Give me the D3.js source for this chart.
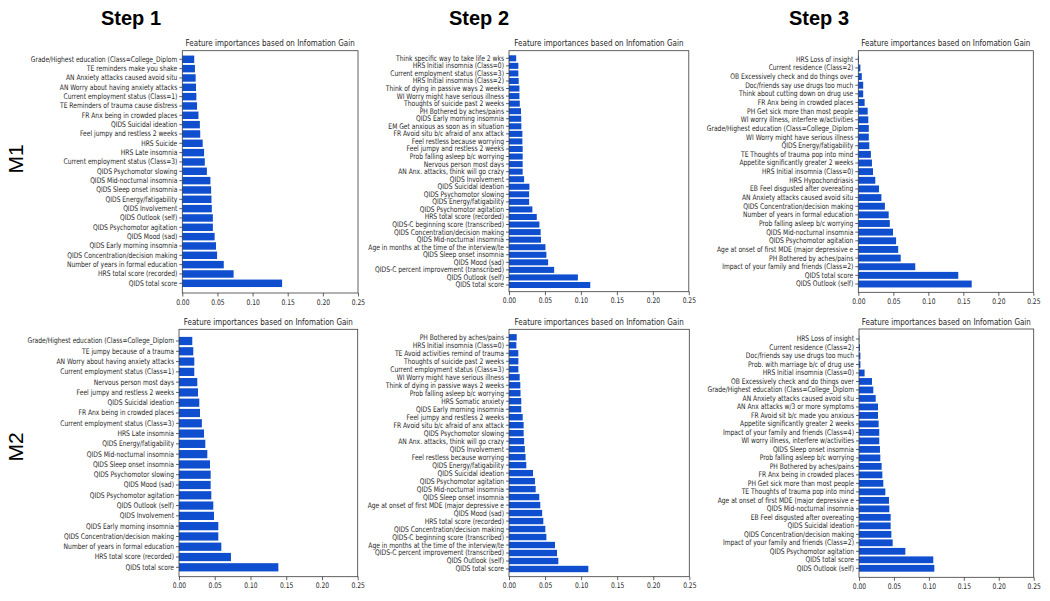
<!DOCTYPE html>
<html>
<head>
<meta charset="utf-8">
<script src="https://cdn.jsdelivr.net/npm/d3@7"></script>
<style>
  html, body { margin: 0; padding: 0; background: #fff; }
  svg { display: block; }
</style>
</head>
<body>
<svg id="chart" width="1050" height="601"></svg>
<script>
// ---------------- DATA (top-to-bottom order as shown) ----------------
const stepHeaders = ["Step 1", "Step 2", "Step 3"];
const modelLabels = ["M1", "M2"];
const panelTitle = "Feature importances based on Infomation Gain";
const xTicks = [0, 0.05, 0.10, 0.15, 0.20, 0.25];

const m1s1Labels = [
  "Grade/Highest education (Class=College_Diplom", "TE reminders make you shake",
  "AN Anxiety attacks caused avoid situ", "AN Worry about having anxiety attacks",
  "Current employment status (Class=1)", "TE Reminders of trauma cause distress",
  "FR Anx being in crowded places", "QIDS Suicidal ideation",
  "Feel jumpy and restless 2 weeks", "HRS Suicide", "HRS Late insomnia",
  "Current employment status (Class=3)", "QIDS Psychomotor slowing",
  "QIDS Mid-nocturnal insomnia", "QIDS Sleep onset insomnia", "QIDS Energy/fatigability",
  "QIDS Involvement", "QIDS Outlook (self)", "QIDS Psychomotor agitation",
  "QIDS Mood (sad)", "QIDS Early morning insomnia", "QIDS Concentration/decision making",
  "Number of years in formal education", "HRS total score (recorded)", "QIDS total score"
];
const m1s1Values = [0.017, 0.018, 0.019, 0.0195, 0.020, 0.021, 0.023, 0.025, 0.0255, 0.029,
  0.031, 0.032, 0.035, 0.040, 0.041, 0.0415, 0.042, 0.0435, 0.0435, 0.046, 0.048, 0.0495,
  0.059, 0.073, 0.142];

const m1s2Labels = [
  "Think specific way to take life 2 wks", "HRS Initial insomnia (Class=0)",
  "Current employment status (Class=3)", "HRS Initial insomnia (Class=2)",
  "Think of dying in passive ways 2 weeks", "WI Worry might have serious illness",
  "Thoughts of suicide past 2 weeks", "PH Bothered by aches/pains",
  "QIDS Early morning insomnia", "EM Get anxious as soon as in situation",
  "FR Avoid situ b/c afraid of anx attack", "Feel restless because worrying",
  "Feel jumpy and restless 2 weeks", "Prob falling asleep b/c worrying",
  "Nervous person most days", "AN Anx. attacks, think will go crazy", "QIDS Involvement",
  "QIDS Suicidal ideation", "QIDS Psychomotor slowing", "QIDS Energy/fatigability",
  "QIDS Psychomotor agitation", "HRS total score (recorded)",
  "QIDS-C beginning score (transcribed)", "QIDS Concentration/decision making",
  "QIDS Mid-nocturnal insomnia", "Age in months at the time of the interview/te",
  "QIDS Sleep onset insomnia", "QIDS Mood (sad)", "QIDS-C percent improvement (transcribed)",
  "QIDS Outlook (self)", "QIDS total score"
];
const m1s2Values = [0.010, 0.013, 0.013, 0.0135, 0.0145, 0.0145, 0.015, 0.0167, 0.017, 0.0172,
  0.0186, 0.0186, 0.019, 0.019, 0.019, 0.019, 0.021, 0.0284, 0.028, 0.028, 0.0325, 0.0386,
  0.0423, 0.044, 0.0445, 0.0507, 0.052, 0.0544, 0.0628, 0.0958, 0.113];

const m1s3Labels = [
  "HRS Loss of insight", "Current residence (Class=2)", "OB Excessively check and do things over",
  "Doc/friends say use drugs too much", "Think about cutting down on drug use",
  "FR Anx being in crowded places", "PH Get sick more than most people",
  "WI worry illness, interfere w/activities", "Grade/Highest education (Class=College_Diplom",
  "WI Worry might have serious illness", "QIDS Energy/fatigability",
  "TE Thoughts of trauma pop into mind", "Appetite significantly greater 2 weeks",
  "HRS Initial insomnia (Class=0)", "HRS Hypochondriasis", "EB Feel disgusted after overeating",
  "AN Anxiety attacks caused avoid situ", "QIDS Concentration/decision making",
  "Number of years in formal education", "Prob falling asleep b/c worrying",
  "QIDS Mid-nocturnal insomnia", "QIDS Psychomotor agitation",
  "Age at onset of first MDE (major depressive e", "PH Bothered by aches/pains",
  "Impact of your family and friends (Class=2)", "QIDS total score", "QIDS Outlook (self)"
];
const m1s3Values = [0.001, 0.003, 0.005, 0.007, 0.007, 0.009, 0.0134, 0.0143, 0.015, 0.015,
  0.0157, 0.018, 0.0195, 0.021, 0.0243, 0.0296, 0.033, 0.038, 0.0434, 0.045, 0.0496, 0.054,
  0.057, 0.0606, 0.0814, 0.1428, 0.162];

const m2s1Labels = [
  "Grade/Highest education (Class=College_Diplom", "TE jumpy because of a trauma",
  "AN Worry about having anxiety attacks", "Current employment status (Class=1)",
  "Nervous person most days", "Feel jumpy and restless 2 weeks", "QIDS Suicidal ideation",
  "FR Anx being in crowded places", "Current employment status (Class=3)", "HRS Late insomnia",
  "QIDS Energy/fatigability", "QIDS Mid-nocturnal insomnia", "QIDS Sleep onset insomnia",
  "QIDS Psychomotor slowing", "QIDS Mood (sad)", "QIDS Psychomotor agitation",
  "QIDS Outlook (self)", "QIDS Involvement", "QIDS Early morning insomnia",
  "QIDS Concentration/decision making", "Number of years in formal education",
  "HRS total score (recorded)", "QIDS total score"
];
const m2s1Values = [0.0186, 0.020, 0.0214, 0.0214, 0.0256, 0.0266, 0.0284, 0.0294, 0.032,
  0.035, 0.0368, 0.0396, 0.0434, 0.0443, 0.0443, 0.0452, 0.048, 0.049, 0.055, 0.055, 0.0592,
  0.0727, 0.139];

const m2s2Labels = [
  "PH Bothered by aches/pains", "HRS Initial insomnia (Class=0)",
  "TE Avoid activities remind of trauma", "Thoughts of suicide past 2 weeks",
  "Current employment status (Class=3)", "WI Worry might have serious illness",
  "Think of dying in passive ways 2 weeks", "Prob falling asleep b/c worrying",
  "HRS Somatic anxiety", "QIDS Early morning insomnia", "Feel jumpy and restless 2 weeks",
  "FR Avoid situ b/c afraid of anx attack", "QIDS Psychomotor slowing",
  "AN Anx. attacks, think will go crazy", "QIDS Involvement", "Feel restless because worrying",
  "QIDS Energy/fatigability", "QIDS Suicidal ideation", "QIDS Psychomotor agitation",
  "QIDS Mid-nocturnal insomnia", "QIDS Sleep onset insomnia",
  "Age at onset of first MDE (major depressive e", "QIDS Mood (sad)",
  "HRS total score (recorded)", "QIDS Concentration/decision making",
  "QIDS-C beginning score (transcribed)", "Age in months at the time of the interview/te",
  "QIDS-C percent improvement (transcribed)", "QIDS Outlook (self)", "QIDS total score"
];
const m2s2Values = [0.0107, 0.0102, 0.0129, 0.013, 0.013, 0.0148, 0.0157, 0.016, 0.017, 0.017,
  0.019, 0.0203, 0.0203, 0.021, 0.022, 0.023, 0.024, 0.0333, 0.036, 0.037, 0.042, 0.0434,
  0.046, 0.0476, 0.0504, 0.0518, 0.0638, 0.0666, 0.0684, 0.110];

const m2s3Labels = [
  "HRS Loss of insight", "Current residence (Class=2)", "Doc/friends say use drugs too much",
  "Prob. with marriage b/c of drug use", "HRS Initial insomnia (Class=0)",
  "OB Excessively check and do things over", "Grade/Highest education (Class=College_Diplom",
  "AN Anxiety attacks caused avoid situ", "AN Anx attacks w/3 or more symptoms",
  "FR Avoid sit b/c made you anxious", "Appetite significantly greater 2 weeks",
  "Impact of your family and friends (Class=4)", "WI worry illness, interfere w/activities",
  "QIDS Sleep onset insomnia", "Prob falling asleep b/c worrying", "PH Bothered by aches/pains",
  "FR Anx being in crowded places", "PH Get sick more than most people",
  "TE Thoughts of trauma pop into mind", "Age at onset of first MDE (major depressive e",
  "QIDS Mid-nocturnal insomnia", "EB Feel disgusted after overeating", "QIDS Suicidal ideation",
  "QIDS Concentration/decision making", "Impact of your family and friends (Class=2)",
  "QIDS Psychomotor agitation", "QIDS total score", "QIDS Outlook (self)"
];
const m2s3Values = [0.0005, 0.0014, 0.002, 0.002, 0.008, 0.0186, 0.0205, 0.0239, 0.0272,
  0.0272, 0.0281, 0.029, 0.029, 0.030, 0.0305, 0.0324, 0.0334, 0.0348, 0.0377, 0.0429, 0.0434,
  0.0453, 0.0453, 0.0463, 0.0482, 0.0663, 0.1063, 0.1078];

// ---------------- LAYOUT ----------------
const panels = [
  { labels: m1s1Labels, values: m1s1Values, box: [182.3, 358.0, 50.7, 293.0], bars: [59.3, 283.3] },
  { labels: m1s2Labels, values: m1s2Values, box: [509.0, 688.8, 50.7, 291.7], bars: [58.3, 285.0] },
  { labels: m1s3Labels, values: m1s3Values, box: [858.3, 1033.3, 50.7, 292.3], bars: [59.3, 284.0] },
  { labels: m2s1Labels, values: m2s1Values, box: [179.0, 357.7, 329.3, 576.7], bars: [341.0, 567.3] },
  { labels: m2s2Labels, values: m2s2Values, box: [509.0, 689.3, 329.3, 576.7], bars: [337.3, 569.0] },
  { labels: m2s3Labels, values: m2s3Values, box: [859.0, 1033.7, 329.0, 577.3], bars: [339.0, 568.3] }
];
const headerX = [131, 479, 819];
const modelY = [159, 447];

const SX = 0.78;             // horizontal squeeze of the source image
const FONT = "'DejaVu Sans', sans-serif";
const barColor = "#0f4fcf";
const inkColor = "#262626";

const svg = d3.select("#chart");

// headers
svg.selectAll("text.step").data(stepHeaders).join("text")
  .attr("class", "step")
  .attr("x", (d, i) => headerX[i]).attr("y", 25)
  .attr("text-anchor", "middle")
  .attr("font-family", "'Liberation Sans', Arial, sans-serif")
  .attr("font-weight", "bold").attr("font-size", 20).attr("fill", "#000")
  .text(d => d);

svg.selectAll("text.model").data(modelLabels).join("text")
  .attr("class", "model")
  .attr("transform", (d, i) => `translate(23,${modelY[i]}) rotate(-90)`)
  .attr("text-anchor", "middle")
  .attr("font-family", "'Liberation Sans', Arial, sans-serif")
  .attr("font-size", 21).attr("fill", "#000")
  .text(d => d);

panels.forEach(p => {
  const [L, R, T, B] = p.box;
  const n = p.labels.length;
  const step = (p.bars[1] - p.bars[0]) / (n - 1);
  const g = svg.append("g");

  const x = d3.scaleLinear().domain([0, 0.25]).range([L, R]);
  const y = d3.scaleBand()
    .domain(d3.range(n))
    .range([p.bars[0] - step / 2, p.bars[1] + step / 2])
    .paddingInner(0.2).paddingOuter(0.1);

  // bars
  g.append("g").selectAll("rect").data(p.values).join("rect")
    .attr("x", x(0))
    .attr("y", (d, i) => y(i))
    .attr("width", d => Math.max(0, x(d) - x(0)))
    .attr("height", y.bandwidth())
    .attr("fill", barColor);

  // frame
  g.append("rect")
    .attr("x", L).attr("y", T).attr("width", R - L).attr("height", B - T)
    .attr("fill", "none").attr("stroke", "#3a3a3a").attr("stroke-width", 0.8);

  // x axis
  const xa = g.append("g").attr("transform", `translate(0,${B})`)
    .call(d3.axisBottom(x).tickValues(xTicks).tickFormat(d3.format(".2f"))
      .tickSize(3.5).tickPadding(2.8));
  xa.select(".domain").remove();

  // y axis
  const ya = g.append("g").attr("transform", `translate(${L},0)`)
    .call(d3.axisLeft(y).tickFormat(i => p.labels[i]).tickSize(3).tickPadding(3.4));
  ya.select(".domain").remove();

  [xa, ya].forEach(a => {
    a.selectAll("line").attr("stroke", "#3a3a3a").attr("stroke-width", 0.8);
    a.selectAll("text")
      .attr("font-family", FONT).attr("font-size", 7.7).attr("fill", inkColor)
      .attr("transform", `scale(${SX},1)`);
  });
  // bottom-axis labels: keep centred under tick after squeeze (x=0 already)

  // title
  g.append("text")
    .attr("transform", `translate(${(L + R) / 2},${T - 4.5}) scale(${SX},1)`)
    .attr("text-anchor", "middle")
    .attr("font-family", FONT).attr("font-size", 9.2).attr("fill", inkColor)
    .text(panelTitle);
});
</script>
</body>
</html>
